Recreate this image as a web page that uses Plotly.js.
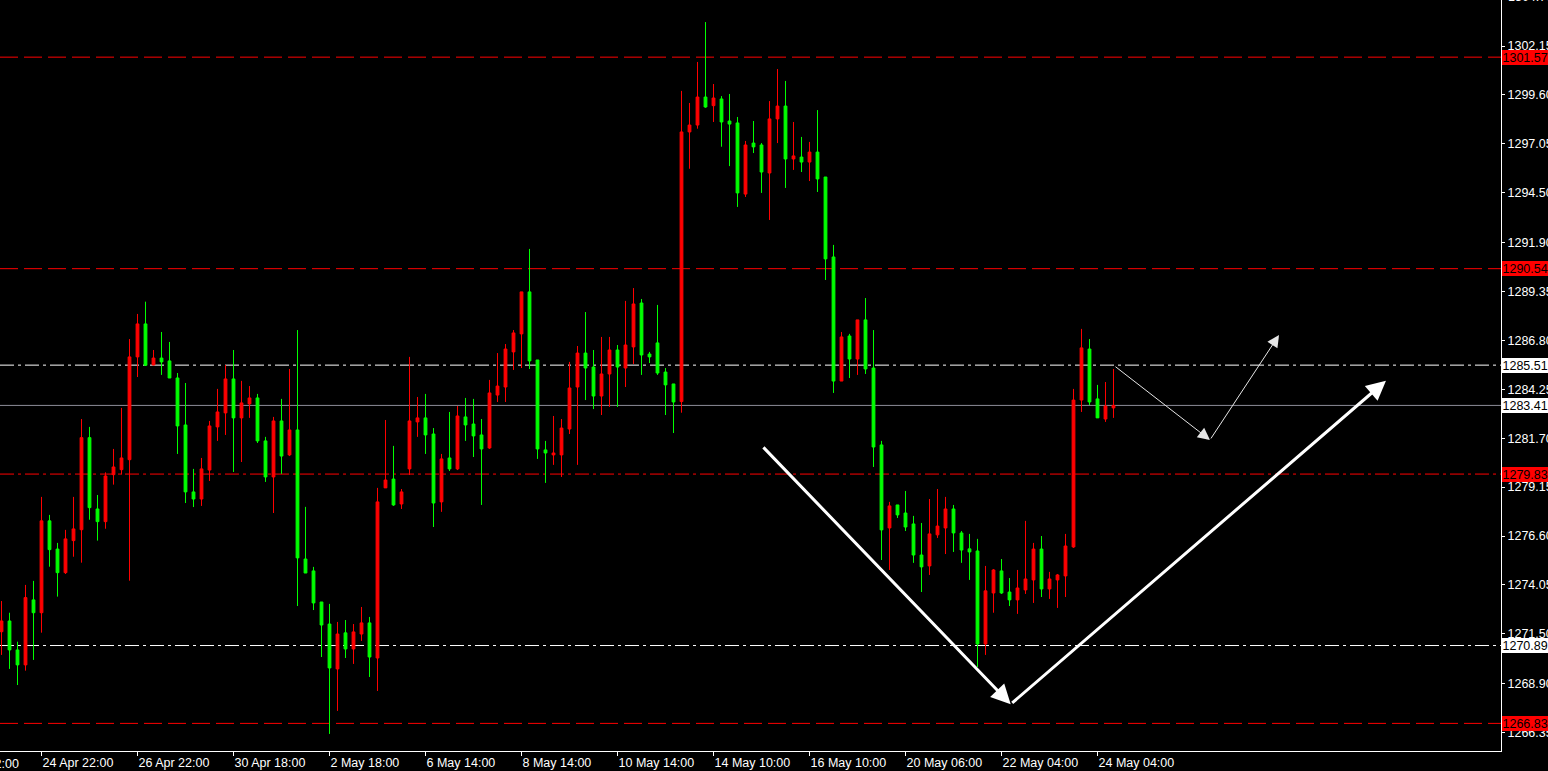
<!DOCTYPE html>
<html>
<head>
<meta charset="utf-8">
<script src="https://cdn.plot.ly/plotly-3.0.1.min.js"></script>
<style>
html,body{margin:0;padding:0;background:#000;overflow:hidden;}
#chart{width:1548px;height:771px;}
</style>
</head>
<body>
<div id="chart"></div>
<script>
// H4 candles (red = rising, green = falling)
const opens = [
1271.61,1272.17,1270.66,1269.88,1273.27,1272.60,1277.39,1275.92,1274.69,1276.36,
1276.93,1281.73,1278.01,1277.35,1279.80,1280.06,1280.58,1285.94,1287.66,1285.52,
1285.88,1285.73,1284.84,1282.39,1278.90,1278.53,1280.04,1282.29,1283.02,1284.79,
1282.76,1283.49,1283.80,1281.56,1279.68,1282.60,1280.83,1282.13,1275.40,1274.78,
1273.16,1272.01,1269.67,1271.55,1270.71,1271.49,1272.07,1270.24,1279.11,1279.57,
1278.27,1280.10,1282.55,1282.76,1281.92,1278.38,1280.67,1280.10,1282.81,1282.44,
1281.87,1281.19,1283.95,1284.37,1286.20,1287.14,1289.33,1285.78,1281.09,1280.83,
1280.83,1282.18,1284.37,1286.14,1285.41,1283.90,1285.05,1286.30,1285.36,1286.46,
1288.75,1286.09,1286.67,1285.15,1284.53,1283.61,1297.67,1298.03,1299.49,1299.04,
1299.39,1298.24,1298.14,1294.43,1297.09,1296.99,1295.53,1298.35,1299.02,1296.26,
1296.36,1296.10,1296.62,1295.32,1291.15,1284.68,1287.03,1285.83,1287.87,1285.36,
1281.35,1277.02,1278.22,1277.80,1277.23,1275.61,1275.04,1276.66,1277.02,1278.01,
1276.76,1275.93,1275.82,1270.97,1273.63,1274.78,1273.68,1273.27,1273.79,1274.31,
1275.92,1273.84,1274.31,1274.52,1276.03,1283.69,1286.35,1283.75,1282.70,1283.28];
const highs = [
1273.21,1272.60,1271.09,1274.05,1274.26,1278.64,1277.70,1276.24,1276.92,1278.64,
1282.70,1282.29,1278.74,1279.92,1281.14,1283.28,1286.87,1288.18,1288.82,1286.30,
1287.24,1286.72,1285.10,1284.58,1280.10,1280.67,1282.60,1284.27,1285.52,1286.30,
1284.69,1284.42,1284.01,1281.77,1282.81,1283.75,1285.31,1287.34,1278.12,1274.99,
1273.16,1273.06,1272.12,1272.22,1272.01,1272.90,1272.38,1279.11,1282.65,1281.30,
1279.05,1285.94,1283.85,1284.01,1282.23,1280.88,1283.07,1283.38,1283.80,1283.75,
1282.70,1284.74,1286.14,1286.61,1287.34,1289.33,1291.57,1285.78,1281.56,1282.86,
1282.70,1285.68,1286.51,1288.28,1286.30,1286.98,1286.98,1286.56,1288.86,1289.53,
1288.96,1286.20,1288.65,1285.36,1284.53,1299.81,1299.18,1301.32,1303.40,1300.17,
1299.54,1299.65,1298.45,1297.20,1298.24,1297.09,1299.28,1300.95,1300.33,1298.19,
1297.41,1297.15,1298.81,1295.32,1291.78,1287.24,1287.14,1287.87,1289.01,1287.34,
1281.56,1278.38,1278.22,1278.95,1277.65,1277.28,1278.53,1279.05,1278.64,1278.22,
1276.86,1276.71,1276.45,1275.04,1274.88,1275.40,1274.41,1274.83,1277.39,1276.24,
1276.60,1274.73,1274.62,1276.71,1284.27,1287.40,1286.87,1284.48,1284.63,1285.31];
const lows = [
1270.40,1269.67,1268.83,1269.58,1270.14,1271.56,1275.00,1273.44,1274.62,1275.52,
1275.21,1277.45,1276.36,1276.98,1279.28,1279.80,1274.27,1284.89,1285.50,1285.50,
1285.00,1284.84,1280.88,1278.32,1278.11,1278.17,1279.47,1281.56,1281.87,1279.94,
1280.46,1282.76,1281.45,1279.42,1277.80,1279.84,1280.77,1272.95,1274.67,1272.74,
1270.29,1266.28,1267.48,1270.24,1269.93,1271.13,1269.25,1268.52,1279.11,1278.17,
1278.01,1279.78,1281.77,1280.88,1277.07,1277.86,1279.99,1280.04,1281.56,1280.72,
1278.22,1281.14,1283.59,1283.59,1285.26,1285.36,1285.31,1280.62,1279.37,1280.31,
1279.68,1281.92,1280.31,1283.69,1283.22,1282.91,1283.33,1283.33,1284.37,1285.57,
1285.00,1285.62,1285.00,1282.91,1281.97,1283.03,1295.75,1297.84,1298.93,1298.19,
1296.90,1295.89,1293.76,1294.28,1296.57,1294.49,1293.08,1297.09,1294.75,1295.69,
1295.58,1295.11,1294.54,1289.95,1284.06,1284.68,1284.84,1285.00,1285.05,1280.20,
1275.35,1274.83,1277.54,1276.86,1275.20,1273.68,1274.57,1276.50,1275.66,1275.77,
1275.20,1274.31,1269.77,1270.40,1272.60,1273.58,1272.95,1272.54,1273.58,1273.11,
1273.42,1273.32,1272.85,1273.42,1275.98,1283.07,1283.43,1282.76,1282.55,1282.76];
const closes = [
1272.17,1270.66,1269.88,1273.39,1272.60,1277.39,1275.89,1274.69,1276.45,1276.97,
1281.73,1278.08,1277.35,1279.73,1280.20,1280.67,1285.94,1287.66,1285.50,1285.88,
1285.68,1284.84,1282.34,1278.90,1278.53,1280.10,1282.34,1283.07,1284.79,1282.76,
1283.54,1283.80,1281.56,1279.68,1282.60,1280.77,1282.13,1275.46,1274.67,1273.11,
1271.96,1269.72,1271.49,1270.71,1271.60,1272.07,1270.29,1278.38,1279.52,1278.22,
1278.90,1282.60,1282.76,1281.87,1278.32,1280.62,1280.10,1282.86,1282.39,1281.82,
1281.14,1284.06,1284.42,1286.35,1287.19,1289.33,1285.73,1281.14,1280.93,1280.93,
1282.23,1284.32,1286.14,1285.36,1283.90,1285.05,1286.30,1285.41,1286.56,1288.70,
1286.04,1285.94,1285.10,1284.48,1283.59,1297.67,1298.03,1299.49,1298.97,1299.44,
1298.19,1298.08,1294.49,1296.99,1296.89,1295.58,1298.35,1299.02,1296.26,1296.42,
1296.10,1296.62,1295.22,1291.05,1284.68,1286.98,1285.83,1287.87,1285.31,1281.24,
1276.92,1278.17,1277.70,1277.07,1275.61,1274.99,1276.71,1277.12,1278.01,1276.76,
1275.87,1275.77,1270.97,1273.74,1274.83,1273.63,1273.27,1273.89,1274.36,1275.92,
1273.84,1274.36,1274.57,1276.08,1283.69,1286.41,1283.59,1282.76,1283.38,1283.41];

// time axis labels (bar index -> label)
const timeTickIdx = [5,17,29,41,53,65,77,89,101,113,125,137];
const timeTickText = ['24 Apr 22:00','26 Apr 22:00','30 Apr 18:00','2 May 18:00','6 May 14:00','8 May 14:00',
  '10 May 14:00','14 May 10:00','16 May 10:00','20 May 06:00','22 May 04:00','24 May 04:00'];
const cutTimeIdx = -7, cutTimeText = '22 Apr 22:00';

// price scale labels
const priceTicks = [1302.15,1299.60,1297.05,1294.50,1291.90,1289.35,1286.80,1284.25,1281.70,1279.15,1276.60,1274.05,1271.50,1268.90,1266.35];
const cutPriceTick = 1304.70;

// horizontal levels
const levelPrices = [1301.57,1290.54,1285.51,1283.41,1279.83,1270.89,1266.83];
const levelLine   = ['#ff0000','#ff0000','#ffffff','#8c8c98','#ff0000','#ffffff','#ff0000'];
const levelDash   = ['18px,6px','18px,6px','14px,4px,3px,4px','solid','14px,4px,3px,4px','14px,4px,3px,4px','18px,6px'];
const levelLabelBg= ['#ff0000','#ff0000','#ffffff','#ffffff','#ff0000','#ffffff','#ff0000'];

// drawn arrows: [tailIdx, tailPrice, tipIdx, tipPrice, width, color]
const arrows = [
  [95.06,1281.30,126.15,1267.83,3,'#ffffff'],
  [126.15,1267.83,173.06,1284.70,3,'#ffffff'],
  [139.06,1285.49,151.06,1281.61,1,'#e6e6e6'],
  [151.06,1281.61,159.69,1287.08,1,'#e6e6e6']
];

const idx = opens.map((_, i) => i);
const FONT = 'Liberation Sans, Arial, sans-serif';
const FS = 12.5;
const X0 = -0.1875, X1 = 187.4375;
const Y0 = 1265.39, Y1 = 1304.55;

const trace = {
  type: 'candlestick',
  x: idx, open: opens, high: highs, low: lows, close: closes,
  increasing: {line: {color: '#ff0000', width: 1}, fillcolor: '#ff0000'},
  decreasing: {line: {color: '#00ff00', width: 1}, fillcolor: '#00ff00'},
  whiskerwidth: 0,
  hoverinfo: 'skip',
  showlegend: false
};

const shapes = levelPrices.map((p, i) => ({
  type: 'line', xref: 'paper', yref: 'y', x0: 0, x1: 1, y0: p, y1: p, layer: 'below',
  line: {color: levelLine[i], width: 1, dash: levelDash[i]}
}));

const annotations = [];
arrows.forEach(a => annotations.push({
  x: a[2], y: a[3], ax: a[0], ay: a[1], xref: 'x', yref: 'y', axref: 'x', ayref: 'y',
  text: '', showarrow: true, arrowhead: 2, arrowsize: a[4] > 1 ? 1.3 : 2.4, arrowwidth: a[4], arrowcolor: a[5], standoff: 0
}));
levelPrices.forEach((p, i) => annotations.push({
  xref: 'paper', yref: 'y', x: 1, y: p, xanchor: 'left', yanchor: 'middle', xshift: 1,
  text: p.toFixed(2), showarrow: false, bgcolor: levelLabelBg[i], borderpad: 0.5, borderwidth: 0,
  width: 58, align: 'left', font: {family: FONT, size: FS, color: '#000000'}
}));
// partially visible price label above the top edge
annotations.push({
  xref: 'paper', yref: 'paper', x: 1, y: 1 + (cutPriceTick - Y1) / (Y1 - Y0),
  xanchor: 'left', yanchor: 'middle', xshift: 5,
  text: cutPriceTick.toFixed(2), showarrow: false, font: {family: FONT, size: FS, color: '#ffffff'}
});
// partially visible time label at the left edge
annotations.push({
  xref: 'paper', yref: 'paper', x: (cutTimeIdx - X0) / (X1 - X0), y: 0, xanchor: 'left', yanchor: 'top', yshift: -4,
  text: cutTimeText, showarrow: false, font: {family: FONT, size: FS, color: '#ffffff'}
});

const layout = {
  width: 1548, height: 771, autosize: false,
  margin: {l: 0, r: 47, t: 0, b: 20, pad: 0},
  paper_bgcolor: '#000000', plot_bgcolor: '#000000',
  boxgap: 0.5,
  showlegend: false,
  font: {family: FONT, size: FS, color: '#ffffff'},
  xaxis: {
    range: [X0, X1], fixedrange: true,
    rangeslider: {visible: false},
    showgrid: false, zeroline: false,
    showline: true, linecolor: '#ffffff', linewidth: 1,
    ticks: 'outside', ticklen: 4, tickcolor: '#ffffff', tickwidth: 1,
    tickmode: 'array', tickvals: timeTickIdx, ticktext: timeTickText,
    ticklabelposition: 'outside right',
    tickfont: {family: FONT, size: FS, color: '#ffffff'}
  },
  yaxis: {
    side: 'right', range: [Y0, Y1], fixedrange: true,
    showgrid: false, zeroline: false,
    showline: true, linecolor: '#ffffff', linewidth: 1,
    ticks: 'outside', ticklen: 3, tickcolor: '#ffffff', tickwidth: 1,
    tickmode: 'array', tickvals: priceTicks, ticktext: priceTicks.map(v => v.toFixed(2)),
    tickfont: {family: FONT, size: FS, color: '#ffffff'}
  },
  shapes: shapes,
  annotations: annotations
};

Plotly.newPlot('chart', [trace], layout, {displayModeBar: false, staticPlot: true});
</script>
</body>
</html>
